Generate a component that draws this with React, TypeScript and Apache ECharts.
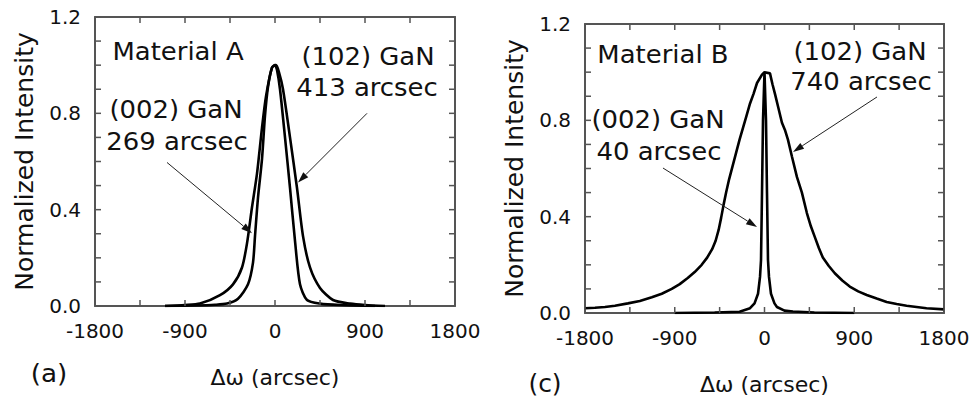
import React, { useEffect, useRef } from "react";
import * as echarts from "echarts";

// Panel (a) – Material A
const a002: number[][] = [
  [-1100, 0], [-800, 0.002], [-600, 0.005], [-480, 0.01], [-370, 0.03], [-270, 0.09],
  [-220, 0.18], [-200, 0.29], [-170, 0.45], [-130, 0.61], [-100, 0.79], [-70, 0.91],
  [-30, 0.99], [0, 1.0], [20, 0.98], [50, 0.9], [100, 0.7], [150, 0.49], [200, 0.27],
  [250, 0.09], [320, 0.025], [450, 0.01], [650, 0.004], [1000, 0],
];
const a102: number[][] = [
  [-1100, 0], [-900, 0.004], [-750, 0.01], [-550, 0.045], [-420, 0.09], [-330, 0.16],
  [-280, 0.26], [-230, 0.41], [-180, 0.55], [-130, 0.74], [-90, 0.87], [-30, 0.99],
  [10, 1.0], [40, 0.97], [80, 0.9], [150, 0.7], [220, 0.49], [280, 0.29], [350, 0.16],
  [450, 0.075], [580, 0.025], [750, 0.01], [900, 0.004], [1100, 0],
];

// Panel (c) – Material B
const b002: number[][] = [
  [-900, 0], [-500, 0.002], [-250, 0.005], [-145, 0.02], [-100, 0.04], [-65, 0.08],
  [-45, 0.15], [-35, 0.22], [-25, 0.5], [-15, 0.8], [0, 1.0], [15, 0.8], [25, 0.5],
  [35, 0.22], [45, 0.15], [65, 0.08], [100, 0.04], [125, 0.025], [200, 0.01],
  [285, 0.006], [500, 0.002], [900, 0],
];
const b102: number[][] = [
  [-1800, 0.02], [-1700, 0.022], [-1600, 0.025], [-1500, 0.03], [-1370, 0.04],
  [-1250, 0.05], [-1130, 0.065], [-1030, 0.08], [-930, 0.1], [-850, 0.12],
  [-770, 0.145], [-700, 0.17], [-630, 0.2], [-575, 0.23], [-525, 0.265], [-490, 0.3],
  [-460, 0.345], [-435, 0.395], [-410, 0.45], [-385, 0.5], [-355, 0.555], [-320, 0.61],
  [-285, 0.665], [-250, 0.72], [-215, 0.77], [-180, 0.82], [-145, 0.87], [-110, 0.91],
  [-75, 0.955], [-25, 0.99], [0, 1.0], [55, 0.995], [80, 0.95], [105, 0.91],
  [140, 0.85], [175, 0.79], [205, 0.76], [235, 0.72], [275, 0.65], [325, 0.565],
  [375, 0.5], [425, 0.415], [465, 0.36], [505, 0.315], [545, 0.27], [585, 0.23],
  [645, 0.195], [705, 0.165], [780, 0.135], [855, 0.11], [940, 0.09], [1025, 0.075],
  [1125, 0.06], [1225, 0.046], [1325, 0.037], [1425, 0.03], [1525, 0.025],
  [1625, 0.02], [1800, 0.015],
];

// Annotation arrows in data coordinates [xFrom, yFrom, xTo, yTo]
const arrowsA: number[][] = [
  [-1080, 0.596, -230, 0.302],
  [920, 0.8, 230, 0.513],
];
const arrowsB: number[][] = [
  [-1018, 0.602, -75, 0.357],
  [1128, 0.897, 286, 0.669],
];

// Tick positions (labels every 900 / 0.4, inward ticks on all four sides)
const xTicks = [-1800, -1350, -900, -450, 0, 450, 900, 1350, 1800];
const yTicks = [0, 0.1, 0.2, 0.3, 0.4, 0.5, 0.6, 0.7, 0.8, 0.9, 1.0, 1.1, 1.2];
const X_MIN = -1800;
const X_MAX = 1800;
const Y_MIN = 0;
const Y_MAX = 1.2;

const xName = "Δω (arcsec)";
const yName = "Normalized Intensity";

const FONT = "DejaVu Sans";
const FRAME = "#555";
const TICK = 6;

export default function App() {
  const ref = useRef<HTMLDivElement>(null);
  useEffect(() => {
    if (!ref.current) return;
    const chart = echarts.init(ref.current, null, { renderer: "svg" });

    const xBase = (grid: number, pos: "bottom" | "top"): any => ({
      type: "value",
      gridIndex: grid,
      position: pos,
      min: X_MIN,
      max: X_MAX,
      interval: 900,
      name: pos === "bottom" ? xName : "",
      nameLocation: "middle",
      nameGap: 60,
      nameTextStyle: { fontFamily: FONT, fontSize: 22, color: "#111" },
      axisLine: { show: true, onZero: false, lineStyle: { color: FRAME, width: 2 } },
      axisTick: { show: false },
      axisLabel: {
        show: pos === "bottom",
        margin: 15,
        fontFamily: FONT,
        fontSize: 20,
        color: "#111",
        formatter: (v: number) => String(v),
      },
      splitLine: { show: false },
    });
    const yBase = (grid: number, pos: "left" | "right"): any => ({
      type: "value",
      gridIndex: grid,
      position: pos,
      min: Y_MIN,
      max: Y_MAX,
      interval: 0.4,
      name: pos === "left" ? yName : "",
      nameLocation: "middle",
      nameGap: 58,
      nameTextStyle: { fontFamily: FONT, fontSize: 25, color: "#111" },
      axisLine: { show: true, onZero: false, lineStyle: { color: FRAME, width: 2 } },
      axisTick: { show: false },
      axisLabel: {
        show: pos === "left",
        margin: 14,
        fontFamily: FONT,
        fontSize: 20,
        color: "#111",
        formatter: (v: number) => v.toFixed(1),
      },
      splitLine: { show: false },
    });

    const tickLine = (x1: number, y1: number, x2: number, y2: number) => ({
      type: "line",
      shape: { x1, y1, x2, y2 },
      style: { stroke: FRAME, lineWidth: 1.5 },
    });

    const yTickSeries = (xi: number, yi: number): any => ({
      type: "custom",
      xAxisIndex: xi,
      yAxisIndex: yi,
      silent: true,
      clip: false,
      z: 5,
      data: yTicks.map((v) => [X_MIN, v]),
      renderItem: (_p: any, api: any) => {
        const v = api.value(1);
        const a = api.coord([X_MIN, v]);
        const b = api.coord([X_MAX, v]);
        return {
          type: "group",
          children: [
            tickLine(a[0], a[1], a[0] + TICK, a[1]),
            tickLine(b[0] - TICK, b[1], b[0], b[1]),
          ],
        };
      },
    });
    const xTickSeries = (xi: number, yi: number): any => ({
      type: "custom",
      xAxisIndex: xi,
      yAxisIndex: yi,
      silent: true,
      clip: false,
      z: 5,
      data: xTicks.map((v) => [v, Y_MIN]),
      renderItem: (_p: any, api: any) => {
        const v = api.value(0);
        const a = api.coord([v, Y_MIN]);
        const b = api.coord([v, Y_MAX]);
        return {
          type: "group",
          children: [
            tickLine(a[0], a[1], a[0], a[1] - TICK),
            tickLine(b[0], b[1], b[0], b[1] + TICK),
          ],
        };
      },
    });

    const arrowSeries = (arrows: number[][], xi: number, yi: number): any => ({
      type: "custom",
      xAxisIndex: xi,
      yAxisIndex: yi,
      silent: true,
      clip: false,
      z: 4,
      encode: { x: [0, 2], y: [1, 3] },
      data: arrows,
      renderItem: (_p: any, api: any) => {
        const p1 = api.coord([api.value(0), api.value(1)]);
        const p2 = api.coord([api.value(2), api.value(3)]);
        const dx = p2[0] - p1[0];
        const dy = p2[1] - p1[1];
        const len = Math.sqrt(dx * dx + dy * dy) || 1;
        const ux = dx / len;
        const uy = dy / len;
        const hl = 11;
        const hw = 3.5;
        const bx = p2[0] - ux * hl;
        const by = p2[1] - uy * hl;
        return {
          type: "group",
          children: [
            {
              type: "line",
              shape: { x1: p1[0], y1: p1[1], x2: bx, y2: by },
              style: { stroke: "#222", lineWidth: 1 },
            },
            {
              type: "polygon",
              shape: {
                points: [
                  [p2[0], p2[1]],
                  [bx - uy * hw, by + ux * hw],
                  [bx + uy * hw, by - ux * hw],
                ],
              },
              style: { fill: "#111" },
            },
          ],
        };
      },
    });

    const curve = (data: number[][], xi: number, yi: number, smooth: number | boolean) => ({
      type: "line",
      data,
      xAxisIndex: xi,
      yAxisIndex: yi,
      showSymbol: false,
      smooth,
      lineStyle: { color: "#000", width: 2.6 },
      itemStyle: { color: "#000" },
    });

    const txt = (text: string, x: number, y: number, size = 24, sx = 1.08) => ({
      type: "text",
      x,
      y,
      scaleX: sx,
      silent: true,
      style: {
        text,
        fill: "#111",
        fontFamily: FONT,
        fontSize: size,
        align: "center",
        verticalAlign: "middle",
      },
    });

    chart.setOption({
      animation: false,
      backgroundColor: "#fff",
      grid: [
        { left: 95, right: 520, top: 17, bottom: 95, outerBoundsMode: "none" },
        { left: 585, right: 31, top: 24, bottom: 88, outerBoundsMode: "none" },
      ],
      xAxis: [xBase(0, "bottom"), xBase(0, "top"), xBase(1, "bottom"), xBase(1, "top")],
      yAxis: [yBase(0, "left"), yBase(0, "right"), yBase(1, "left"), yBase(1, "right")],
      series: [
        curve(a002, 0, 0, 0.25),
        curve(a102, 0, 0, 0.25),
        curve(b002, 2, 2, false),
        curve(b102, 2, 2, false),
        arrowSeries(arrowsA, 0, 0),
        arrowSeries(arrowsB, 2, 2),
        yTickSeries(0, 0),
        xTickSeries(0, 0),
        yTickSeries(2, 2),
        xTickSeries(2, 2),
      ],
      graphic: [
        txt("Material A", 178, 52),
        txt("(102) GaN", 368, 57),
        txt("413 arcsec", 367, 88),
        txt("(002) GaN", 176, 110),
        txt("269 arcsec", 177, 142),
        txt("Material B", 663, 55),
        txt("(102) GaN", 860, 52),
        txt("740 arcsec", 861, 82),
        txt("(002) GaN", 658, 120),
        txt("40 arcsec", 659, 152),
        txt("(a)", 49, 373, 25, 1.05),
        txt("(c)", 545, 383, 25, 1.0),
      ],
    });
    return () => chart.dispose();
  }, []);
  return (
    <div
      ref={ref}
      style={{ position: "absolute", left: 0, top: 0, width: 975, height: 401 }}
    />
  );
}
